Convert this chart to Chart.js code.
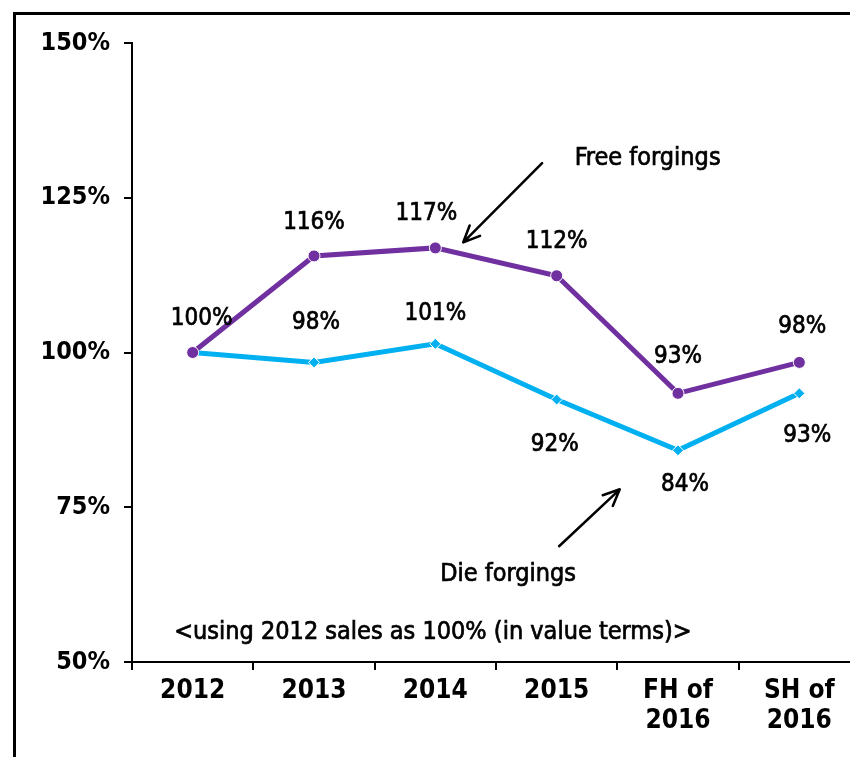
<!DOCTYPE html>
<html>
<head>
<meta charset="utf-8">
<script src="https://cdn.jsdelivr.net/npm/chart.js@4/dist/chart.umd.min.js"></script>
<style>
  html, body { margin: 0; padding: 0; background: #fff; overflow: hidden; width: 850px; height: 757px; }
  #frame { position: absolute; left: 13px; top: 12px; width: 900px; height: 800px;
           border-left: 3px solid #000; border-top: 3px solid #000; }
  #wrap { position: absolute; left: 0; top: 0; width: 870px; height: 757px; }
</style>
</head>
<body>
<div id="frame"></div>
<div id="wrap"><canvas id="forgeChart"></canvas></div>
<script>
const categories = [["2012"], ["2013"], ["2014"], ["2015"], ["FH of", "2016"], ["SH of", "2016"]];
const freeForgings = [100, 115.6, 116.9, 112.4, 93.4, 98.4];
const dieForgings = [100, 98.4, 101.4, 92.4, 84.2, 93.4];
const yTicks = [50, 75, 100, 125, 150];

// label offsets in px (dx, dy) from each point; null = no label
const freeLabelPos = [[9, -34], [0, -33], [-9, -34], [0, -34], [0, -37], [3, -36]];
const dieLabelPos = [null, [2, -40], [0, -30], [-2, 45], [7, 34], [8, 42]];

const FONT = "'Liberation Sans Narrow', 'DejaVu Sans Condensed', 'Liberation Sans', sans-serif";

const annotations = {
  id: "annotations",
  afterDatasetsDraw(chart) {
    const { ctx, scales: { x, y } } = chart;
    ctx.save();
    ctx.fillStyle = "#000";
    ctx.strokeStyle = "#000";
    ctx.lineWidth = 0.7;
    ctx.textAlign = "center";
    ctx.textBaseline = "middle";

    // slightly heavier text, like the original
    const text = (s, tx, ty) => { ctx.fillText(s, tx, ty); ctx.strokeText(s, tx, ty); };

    // data labels
    ctx.font = "24px " + FONT;
    [[freeForgings, freeLabelPos, 0], [dieForgings, dieLabelPos, 1]].forEach(([vals, pos, di]) => {
      const meta = chart.getDatasetMeta(di);
      vals.forEach((v, i) => {
        if (!pos[i]) return;
        const p = meta.data[i];
        text(Math.round(v) + "%", p.x + pos[i][0], p.y + pos[i][1]);
      });
    });

    // callouts
    ctx.font = "25px " + FONT;
    text("Free forgings", x.getPixelForValue(3.75), y.getPixelForValue(131.3));
    text("Die forgings", x.getPixelForValue(2.6), y.getPixelForValue(64.2));
    text("<using 2012 sales as 100% (in value terms)>", x.getPixelForValue(1.98), y.getPixelForValue(54.8));

    function arrow(x1, y1, x2, y2) {
      const ang = Math.atan2(y2 - y1, x2 - x1);
      ctx.lineWidth = 2.5;
      ctx.lineCap = "round";
      ctx.lineJoin = "round";
      ctx.beginPath();
      ctx.moveTo(x1, y1);
      ctx.lineTo(x2, y2);
      ctx.moveTo(x2 - 18 * Math.cos(ang - 0.42), y2 - 18 * Math.sin(ang - 0.42));
      ctx.lineTo(x2, y2);
      ctx.lineTo(x2 - 18 * Math.cos(ang + 0.42), y2 - 18 * Math.sin(ang + 0.42));
      ctx.stroke();
    }
    arrow(x.getPixelForValue(2.88), y.getPixelForValue(130.6), x.getPixelForValue(2.23), y.getPixelForValue(117.8));
    arrow(x.getPixelForValue(3.02), y.getPixelForValue(68.7), x.getPixelForValue(3.52), y.getPixelForValue(77.9));
    ctx.restore();
  }
};

const ctx = document.getElementById("forgeChart").getContext("2d");
new Chart(ctx, {
  type: "line",
  data: {
    labels: categories,
    datasets: [
      {
        label: "Free forgings", data: freeForgings,
        borderColor: "#7030A0", backgroundColor: "#7030A0", borderWidth: 5,
        pointStyle: "circle", pointRadius: 6, pointBorderColor: "#fff", pointBorderWidth: 1
      },
      {
        label: "Die forgings", data: dieForgings,
        borderColor: "#00B0F0", backgroundColor: "#00B0F0", borderWidth: 5,
        pointStyle: "rectRot", pointRadius: 5.5, pointBorderColor: "#fff", pointBorderWidth: 1
      }
    ]
  },
  options: {
    responsive: true,
    maintainAspectRatio: false,
    animation: false,
    layout: { padding: { top: 43, right: 10, left: 0, bottom: 0 } },
    plugins: { legend: { display: false }, tooltip: { enabled: false } },
    scales: {
      x: {
        offset: true,
        afterFit: s => { s.height = 95; },
        border: { color: "#000", width: 2 },
        grid: { offset: true, drawOnChartArea: false, color: "#000", lineWidth: 2, tickLength: 8 },
        ticks: { color: "#000", padding: 6, maxRotation: 0, font: { family: FONT, size: 26, weight: "bold", lineHeight: 1.15 } }
      },
      y: {
        min: 50, max: 150,
        afterBuildTicks: s => { s.ticks = yTicks.map(v => ({ value: v })); },
        afterFit: s => { s.width = 132; },
        border: { color: "#000", width: 2 },
        grid: { drawOnChartArea: false, color: "#000", lineWidth: 2, tickLength: 8 },
        ticks: { color: "#000", padding: 14, callback: v => v + "%", font: { family: FONT, size: 25, weight: "bold" } }
      }
    }
  },
  plugins: [annotations]
});
</script>
</body>
</html>
